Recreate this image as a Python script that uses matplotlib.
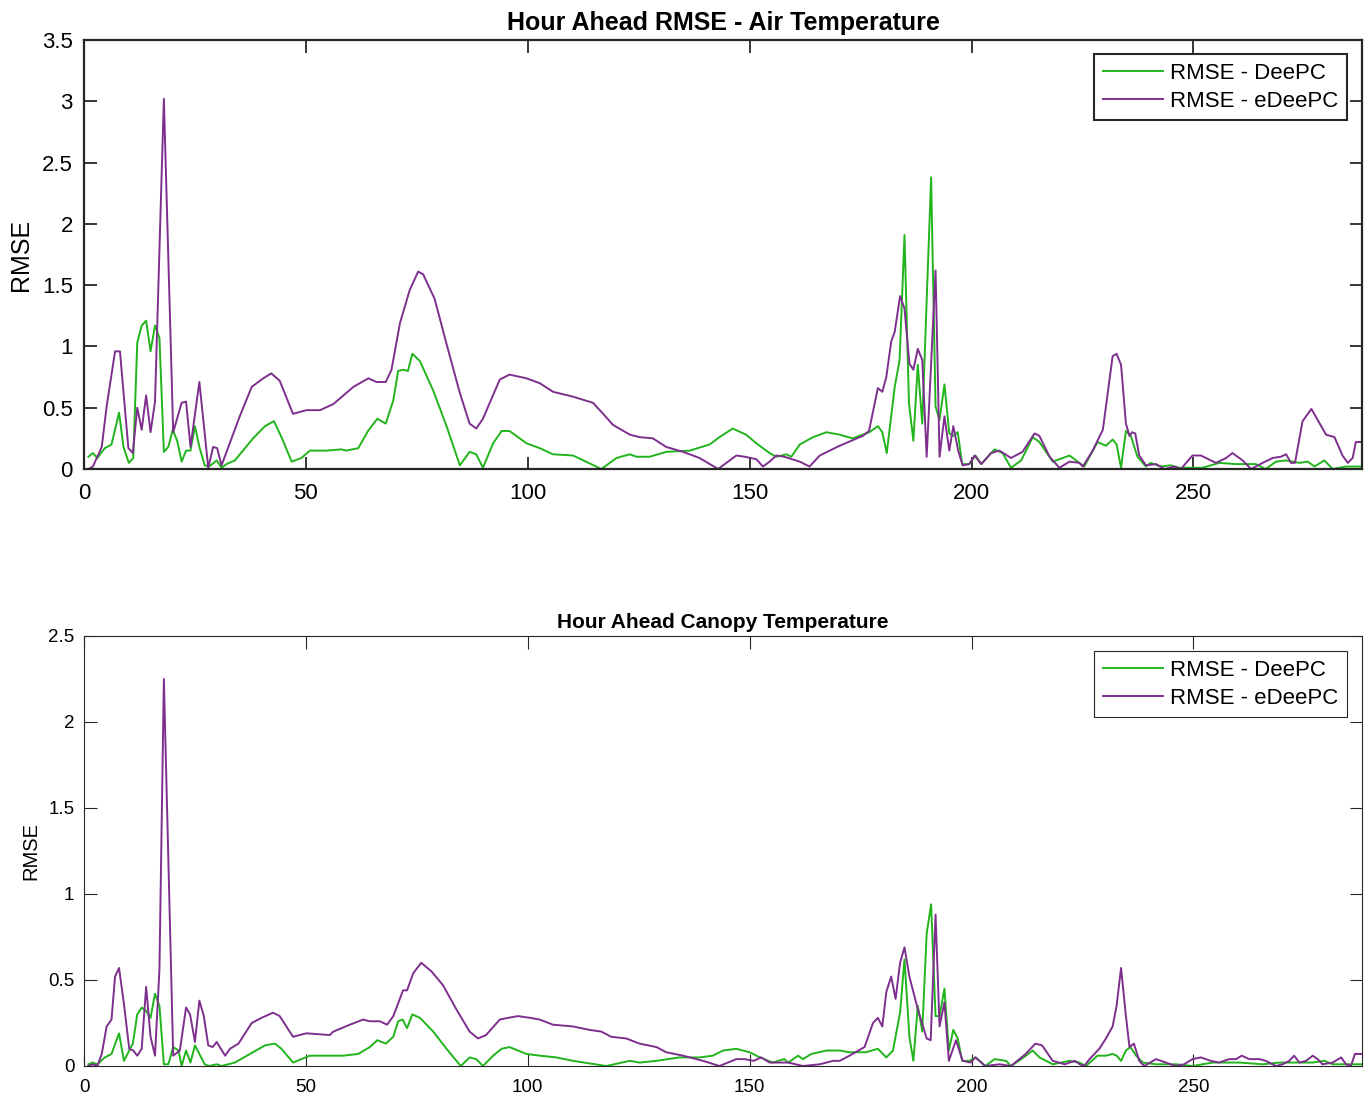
import numpy as np
import matplotlib
matplotlib.use("Agg")
import matplotlib.pyplot as plt
from matplotlib.ticker import FuncFormatter

plt.rcParams['font.family'] = ['Liberation Sans', 'DejaVu Sans']

green = '#22b41c'
purple = '#7e2f8e'
axis_col = '#262626'

series_labels = ['RMSE - DeePC', 'RMSE - eDeePC']

# --- Air temperature, DeePC ---
air_deepc_x = [1, 2, 3, 4.7, 6.2, 7.9, 8.9, 10.1, 11.1, 12, 13, 14, 15, 16, 17, 18, 19, 20, 21, 22, 23, 24,
               25, 26, 27.2, 28.2, 29.9, 31, 32.1, 34, 38.1, 40.8, 42.8, 44.5, 46.8, 49, 50.9, 54.6, 58, 59.1,
               61.8, 64, 66.1, 68, 69.7, 70.8, 71.9, 73, 74, 75.7, 78.7, 81.7, 84.7, 86.9, 88.4, 89.9, 92.2,
               94.1, 95.9, 99.7, 102.7, 105.7, 110.2, 116.6, 120, 123, 124.5, 127.5, 131.2, 136.5, 141, 143.2,
               146.2, 149.2, 151.5, 154.5, 156, 158.3, 159.4, 161.3, 164.3, 167.3, 170.3, 173.2, 177, 178.9,
               179.9, 180.9, 182.7, 183.8, 184.9, 185.9, 186.9, 187.9, 188.9, 190.9, 191.9, 192.8, 193.9, 195,
               195.9, 196.9, 197.9, 199.5, 200.9, 202.2, 205.2, 207, 208.9, 211.2, 213.8, 215.3, 218.3, 222.1,
               224.3, 225.4, 228.4, 230.3, 231.8, 232.7, 233.7, 234.8, 235.9, 237.4, 239.3, 240.4, 242.6,
               244.9, 246.8, 252, 255.9, 259.6, 264.1, 266.3, 268.6, 270.9, 273.9, 275.8, 277.3, 279.5, 281.4,
               284.4, 288]
air_deepc_y = [0.10, 0.13, 0.09, 0.17, 0.20, 0.46, 0.18, 0.05, 0.09, 1.03, 1.17, 1.21, 0.96, 1.17, 1.07, 0.14,
               0.18, 0.32, 0.23, 0.06, 0.15, 0.15, 0.35, 0.18, 0.03, 0.02, 0.07, 0.01, 0.04, 0.07, 0.25, 0.35,
               0.39, 0.26, 0.06, 0.09, 0.15, 0.15, 0.16, 0.15, 0.17, 0.31, 0.41, 0.37, 0.56, 0.80, 0.81, 0.80,
               0.94, 0.88, 0.64, 0.35, 0.03, 0.14, 0.12, 0.01, 0.21, 0.31, 0.31, 0.21, 0.17, 0.12, 0.11, 0.00,
               0.09, 0.12, 0.10, 0.10, 0.14, 0.15, 0.20, 0.26, 0.33, 0.28, 0.21, 0.13, 0.10, 0.12, 0.10, 0.20,
               0.26, 0.30, 0.28, 0.25, 0.30, 0.35, 0.30, 0.13, 0.67, 0.89, 1.91, 0.54, 0.23, 0.85, 0.37, 2.38,
               0.51, 0.40, 0.69, 0.29, 0.27, 0.30, 0.04, 0.04, 0.11, 0.04, 0.16, 0.13, 0.01, 0.07, 0.26, 0.22,
               0.06, 0.11, 0.05, 0.02, 0.22, 0.19, 0.24, 0.20, 0.01, 0.31, 0.27, 0.10, 0.02, 0.05, 0.02, 0.03,
               0.01, 0.01, 0.05, 0.04, 0.04, 0.00, 0.06, 0.07, 0.05, 0.06, 0.02, 0.07, 0.00, 0.02, 0.02]

# --- Air temperature, eDeePC ---
air_edeepc_x = [1, 2, 4, 5.1, 7, 8.1, 10, 11, 12, 13, 14, 15, 16, 18, 20.1, 22, 23, 24, 26, 28, 29.1, 30, 31,
                35.1, 37.8, 40.4, 42.2, 44.1, 47.1, 50.1, 53.2, 56.2, 60.7, 64.1, 65.9, 68, 69.3, 71.2, 73.4,
                75.3, 76.4, 79, 81.7, 84.7, 86.9, 88.4, 89.9, 93.7, 95.9, 99.7, 102.7, 105.7, 110.2, 114.7, 117,
                119.2, 123, 125.2, 128.2, 131.2, 135, 138.7, 142.9, 147, 148.9, 151.5, 153, 154.5, 156, 157.8,
                161.3, 163.5, 165.8, 170.3, 175.5, 176.9, 178.9, 179.9, 180.8, 181.9, 182.7, 183.9, 184.9, 186,
                186.9, 187.9, 188.9, 189.9, 191.9, 192.8, 193.9, 195, 195.9, 197, 198, 199.5, 200.7, 202.2,
                204.4, 206.3, 208.9, 211.5, 214.2, 215.3, 217.6, 219.8, 222.1, 224.3, 225.1, 227.3, 229.6,
                231.8, 232.7, 233.7, 234.8, 235.6, 236.2, 236.9, 237.8, 239.3, 241.6, 243.5, 245.7, 247.2,
                249.8, 251.7, 255.1, 257.4, 258.8, 261.1, 263, 265.6, 267.9, 269.7, 270.9, 272, 272.9, 274.6,
                276.6, 279.9, 281.8, 283.6, 284.8, 285.9, 286.6, 288]
air_edeepc_y = [0.00, 0.02, 0.18, 0.51, 0.96, 0.96, 0.17, 0.13, 0.50, 0.32, 0.60, 0.30, 0.55, 3.02, 0.30,
                0.54, 0.55, 0.18, 0.71, 0.01, 0.18, 0.17, 0.03, 0.43, 0.67, 0.74, 0.78, 0.72, 0.45, 0.48, 0.48,
                0.53, 0.67, 0.74, 0.71, 0.71, 0.81, 1.19, 1.46, 1.61, 1.59, 1.39, 1.02, 0.62, 0.37, 0.33, 0.41,
                0.73, 0.77, 0.74, 0.70, 0.63, 0.59, 0.54, 0.45, 0.36, 0.28, 0.26, 0.25, 0.18, 0.14, 0.09, 0.00,
                0.11, 0.10, 0.08, 0.02, 0.06, 0.11, 0.10, 0.06, 0.02, 0.11, 0.19, 0.27, 0.31, 0.66, 0.63, 0.75,
                1.04, 1.12, 1.41, 1.31, 0.86, 0.81, 0.98, 0.89, 0.10, 1.62, 0.10, 0.43, 0.15, 0.35, 0.15, 0.03,
                0.04, 0.11, 0.04, 0.13, 0.15, 0.09, 0.14, 0.29, 0.27, 0.10, 0.01, 0.06, 0.05, 0.02, 0.15, 0.32,
                0.92, 0.94, 0.85, 0.37, 0.27, 0.30, 0.29, 0.11, 0.03, 0.04, 0.00, 0.02, 0.00, 0.11, 0.11, 0.05,
                0.09, 0.13, 0.07, 0.00, 0.05, 0.09, 0.10, 0.12, 0.05, 0.05, 0.39, 0.49, 0.28, 0.26, 0.11, 0.05,
                0.09, 0.22, 0.22]

# --- Canopy temperature, DeePC ---
can_deepc_x = [1, 2, 3, 4.7, 6.2, 7.9, 9, 11, 12, 13, 14, 15, 16, 17, 18, 19, 20.1, 21.3, 22, 23, 24, 25,
               27.2, 28.2, 29.9, 31, 34, 38.1, 40.8, 43, 44.5, 47.1, 49, 50.9, 54.6, 58.4, 61.8, 64.4, 66.1, 68,
               69.7, 70.8, 71.8, 72.8, 74, 75.7, 78.7, 81.7, 84.9, 86.9, 88.4, 89.9, 92.2, 94.1, 95.9, 99.7,
               102.7, 106.4, 110.2, 117.7, 123, 125.2, 129, 134.2, 138.7, 141.7, 144, 147, 150, 152.3, 155.2,
               157.8, 158.7, 160.9, 162, 163.9, 167.3, 170.3, 172.5, 176.2, 178.9, 180.8, 182.3, 183.9, 184.9,
               186, 186.9, 187.9, 188.9, 189.9, 190.9, 191.9, 192.8, 193.9, 194.9, 195.9, 196.9, 197.9, 199.5,
               200.9, 203.1, 205.2, 207.8, 208.9, 211.2, 213.8, 215.3, 218.3, 222.1, 224.3, 225.8, 228.4,
               230.3, 231.8, 232.7, 233.7, 234.8, 235.8, 237.1, 238.6, 241.6, 246, 249.8, 254.4, 260.4, 265.6,
               269.4, 276.9, 279.5, 281.4, 283.6, 288]
can_deepc_y = [0.01, 0.02, 0.01, 0.05, 0.07, 0.19, 0.03, 0.13, 0.30, 0.34, 0.32, 0.28, 0.42, 0.35, 0.01,
               0.01, 0.11, 0.09, 0.00, 0.09, 0.02, 0.12, 0.01, 0.00, 0.01, 0.00, 0.02, 0.08, 0.12, 0.13, 0.10,
               0.02, 0.04, 0.06, 0.06, 0.06, 0.07, 0.11, 0.15, 0.13, 0.17, 0.26, 0.27, 0.22, 0.30, 0.28, 0.20,
               0.10, 0.00, 0.05, 0.04, 0.00, 0.06, 0.10, 0.11, 0.07, 0.06, 0.05, 0.03, 0.00, 0.03, 0.02, 0.03,
               0.05, 0.05, 0.06, 0.09, 0.10, 0.08, 0.05, 0.02, 0.04, 0.02, 0.06, 0.04, 0.07, 0.09, 0.09, 0.08,
               0.08, 0.10, 0.05, 0.09, 0.31, 0.62, 0.17, 0.03, 0.35, 0.20, 0.77, 0.94, 0.29, 0.29, 0.45, 0.09,
               0.21, 0.16, 0.03, 0.03, 0.05, 0.00, 0.04, 0.03, 0.00, 0.04, 0.09, 0.05, 0.01, 0.03, 0.02, 0.00,
               0.06, 0.06, 0.07, 0.06, 0.03, 0.09, 0.11, 0.06, 0.02, 0.01, 0.01, 0.00, 0.02, 0.02, 0.01, 0.02,
               0.02, 0.03, 0.01, 0.01, 0.01]

# --- Canopy temperature, eDeePC ---
can_edeepc_x = [1, 2, 3, 4, 5.1, 6.2, 7, 7.9, 9, 10.2, 11.1, 12, 13, 14, 15, 16, 17, 18, 20.1, 21.6, 23, 23.9,
                25, 26, 27, 28, 29, 29.9, 31.8, 32.9, 34.8, 37.8, 40, 42.6, 44.1, 47.1, 50.1, 55.4, 56.2, 59.9,
                62.9, 64.4, 66.7, 68.3, 69.7, 71.9, 72.8, 74.2, 76, 78.3, 80.9, 83.9, 86.9, 88.8, 90.6, 93.7,
                95.6, 97.8, 100.5, 102.7, 105.7, 110.2, 113.9, 116.6, 118.8, 122.2, 125.2, 129, 131.2, 135,
                139.5, 143.2, 147, 148.9, 150.9, 152.6, 154.5, 156.8, 158.7, 162, 165.8, 168.8, 170.3, 172.5,
                175.9, 177.8, 178.9, 179.9, 180.8, 181.9, 182.9, 183.9, 184.9, 186, 187.9, 189.9, 190.8, 191.9,
                192.8, 193.9, 194.9, 196.5, 198, 199.8, 200.9, 203.1, 206.3, 208.9, 212.2, 214.4, 215.9, 218.3,
                221, 223.3, 224.4, 225.4, 226.6, 228.8, 230.3, 231.8, 232.7, 233.7, 234.8, 235.6, 236.6, 237.8,
                238.9, 241.6, 243.8, 246, 247.9, 249.8, 251.7, 253.9, 255.8, 258.1, 259.6, 260.9, 262.6, 264.9,
                266.3, 268.6, 270.1, 271.6, 272.7, 273.9, 275.4, 276.9, 278, 279.1, 281.4, 283.3, 284.4, 285.5,
                286.4, 288]
can_edeepc_y = [0.00, 0.01, 0.00, 0.07, 0.23, 0.27, 0.52, 0.57, 0.36, 0.10, 0.09, 0.06, 0.10, 0.46, 0.17,
                0.06, 0.56, 2.25, 0.06, 0.09, 0.34, 0.30, 0.14, 0.38, 0.29, 0.12, 0.11, 0.14, 0.06, 0.10, 0.13,
                0.25, 0.28, 0.31, 0.29, 0.17, 0.19, 0.18, 0.20, 0.24, 0.27, 0.26, 0.26, 0.24, 0.29, 0.44, 0.44,
                0.54, 0.60, 0.55, 0.47, 0.33, 0.20, 0.16, 0.18, 0.27, 0.28, 0.29, 0.28, 0.27, 0.24, 0.23, 0.21,
                0.20, 0.17, 0.16, 0.13, 0.11, 0.08, 0.06, 0.03, 0.00, 0.04, 0.04, 0.03, 0.05, 0.02, 0.02, 0.02,
                0.00, 0.01, 0.03, 0.03, 0.06, 0.11, 0.25, 0.28, 0.23, 0.43, 0.52, 0.39, 0.60, 0.69, 0.52, 0.33,
                0.16, 0.15, 0.88, 0.23, 0.37, 0.03, 0.15, 0.03, 0.02, 0.05, 0.00, 0.01, 0.00, 0.07, 0.13, 0.12,
                0.03, 0.01, 0.03, 0.01, 0.00, 0.04, 0.10, 0.16, 0.23, 0.35, 0.57, 0.29, 0.11, 0.13, 0.03, 0.00,
                0.04, 0.02, 0.00, 0.01, 0.04, 0.05, 0.03, 0.02, 0.04, 0.04, 0.06, 0.04, 0.04, 0.03, 0.00, 0.01,
                0.03, 0.06, 0.02, 0.03, 0.06, 0.04, 0.01, 0.02, 0.05, 0.01, 0.00, 0.07, 0.07]

xticks = [0, 50, 100, 150, 200, 250]
air_yticks = [0, 0.5, 1, 1.5, 2, 2.5, 3, 3.5]
can_yticks = [0, 0.5, 1, 1.5, 2, 2.5]


def style_axes(ax, lw, tick_size, tick_len, tick_w, pad):
    for s in ax.spines.values():
        s.set_linewidth(lw)
        s.set_color(axis_col)
    ax.tick_params(direction='in', top=True, right=True, length=tick_len, width=tick_w,
                   labelsize=tick_size, colors=axis_col, labelcolor='black', pad=pad)
    ax.tick_params(axis='x', pad=pad + 2)
    ax.yaxis.set_major_formatter(FuncFormatter(lambda v, p: '%g' % v))


def add_legend(ax, frame_lw, top_gap, height_px):
    leg = ax.legend(loc='upper right', bbox_to_anchor=(1 - 15 / 1278, 1 - top_gap / height_px),
                    borderaxespad=0, fontsize=16, fancybox=False, framealpha=1, handlelength=2.7,
                    handletextpad=0.3, labelspacing=0.3, borderpad=0.4)
    leg.get_frame().set_edgecolor(axis_col)
    leg.get_frame().set_linewidth(frame_lw)
    return leg


fig = plt.figure(figsize=(13.7, 10.99), dpi=100)

# top panel
ax1 = fig.add_axes([84 / 1370, 1 - 469 / 1099, 1278 / 1370, 429 / 1099])
ax1.plot(air_deepc_x, air_deepc_y, color=green, lw=1.4, label=series_labels[0])
ax1.plot(air_edeepc_x, air_edeepc_y, color=purple, lw=1.4, label=series_labels[1])
ax1.set_xlim(0, 288)
ax1.set_ylim(0, 3.5)
ax1.set_xticks(xticks)
ax1.set_yticks(air_yticks)
style_axes(ax1, 1.6, 16, 9, 1.3, 8)
ax1.set_title('Hour Ahead RMSE - Air Temperature', fontsize=18, fontweight='bold', pad=7)
ax1.set_ylabel('RMSE', fontsize=18)
ax1.yaxis.set_label_coords(-0.040, 0.5)
add_legend(ax1, 1.5, 14, 429)

# bottom panel
ax2 = fig.add_axes([84 / 1370, 1 - 1066 / 1099, 1278 / 1370, 430 / 1099])
ax2.plot(can_deepc_x, can_deepc_y, color=green, lw=1.4, label=series_labels[0])
ax2.plot(can_edeepc_x, can_edeepc_y, color=purple, lw=1.4, label=series_labels[1])
ax2.set_xlim(0, 288)
ax2.set_ylim(0, 2.5)
ax2.set_xticks(xticks)
ax2.set_yticks(can_yticks)
style_axes(ax2, 0.8, 13.5, 9, 0.8, 7)
ax2.set_title('Hour Ahead Canopy Temperature', fontsize=15, fontweight='bold', pad=6)
ax2.set_ylabel('RMSE', fontsize=14.5)
ax2.yaxis.set_label_coords(-0.034, 0.5)
add_legend(ax2, 0.8, 15, 430)

fig.savefig('out.png', dpi=100)
